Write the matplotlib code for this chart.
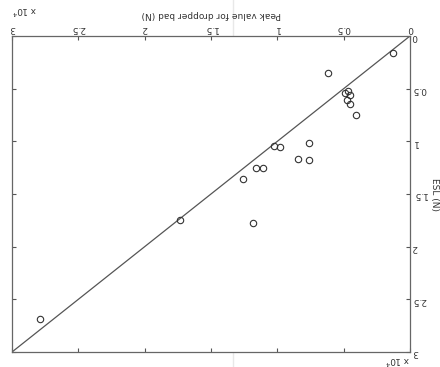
import matplotlib
matplotlib.use("Agg")
import matplotlib.pyplot as plt
from matplotlib.lines import Line2D

# Data (N): peak value for dropper load vs ESL
peak_value = [1304, 6159, 4900, 4651, 4523, 4772, 4523, 4093,
              10229, 9799, 7613, 8420, 7613, 11608, 11104, 12566,
              17300, 11812, 27891]
esl = [1640, 3484, 5440, 5193, 5601, 6076, 6456, 7500,
       10443, 10567, 10130, 11649, 11801, 12532, 12532, 13605,
       17500, 17725, 26868]
ref_line = [0, 30000]
tick_vals = [0, 5000, 10000, 15000, 20000, 25000, 30000]
tick_labels = ['0', '0.5', '1', '1.5', '2', '2.5', '3']

W, H = 440, 367
fig = plt.figure(figsize=(W / 100, H / 100), dpi=100)
fig.patch.set_facecolor('white')
ax = fig.add_axes([12 / W, 1 - 352 / H, (410 - 12) / W, (352 - 36) / H])

fs = 6.5
tc = '#333333'
ax.plot(ref_line, ref_line, color='#555555', lw=0.9)
ax.plot(peak_value, esl, linestyle='none', marker='o', ms=4.6,
        mfc='none', mec='#333333', mew=0.8)

ax.set_xlim(30000, 0)
ax.set_ylim(30000, 0)
ax.xaxis.tick_top()
ax.yaxis.tick_right()
ax.set_xticks(tick_vals)
ax.set_xticklabels(tick_labels)
ax.set_yticks(tick_vals)
ax.set_yticklabels(tick_labels)
ax.tick_params(axis='both', direction='in', length=3, width=0.8, color='#555555',
               labelsize=fs, labelcolor=tc, labelrotation=180, pad=2,
               top=True, bottom=True, left=True, right=True)
ax.tick_params(axis='y', pad=1.5)
for s in ax.spines.values():
    s.set_color('#666666')
    s.set_linewidth(0.9)

# axis labels (upside down)
fig.text(211 / W, 1 - 15 / H, 'Peak value for dropper bad (N)', rotation=180,
         ha='center', va='center', fontsize=fs, color=tc)
fig.text(434 / W, 1 - 194 / H, 'ESL (N)', rotation=270,
         ha='center', va='center', fontsize=fs, color=tc)
# multipliers
fig.text(24 / W, 1 - 10 / H, r'x 10$^4$', rotation=180,
         ha='center', va='center', fontsize=fs, color=tc)
fig.text(397 / W, 1 - 360 / H, r'x 10$^4$', rotation=180,
         ha='center', va='center', fontsize=fs, color=tc)

# faint scan line
fig.add_artist(Line2D([233 / W, 233 / W], [0, 1], color='#e8e8e8', lw=1,
                      transform=fig.transFigure, zorder=0))

fig.savefig('out.png', dpi=100)
